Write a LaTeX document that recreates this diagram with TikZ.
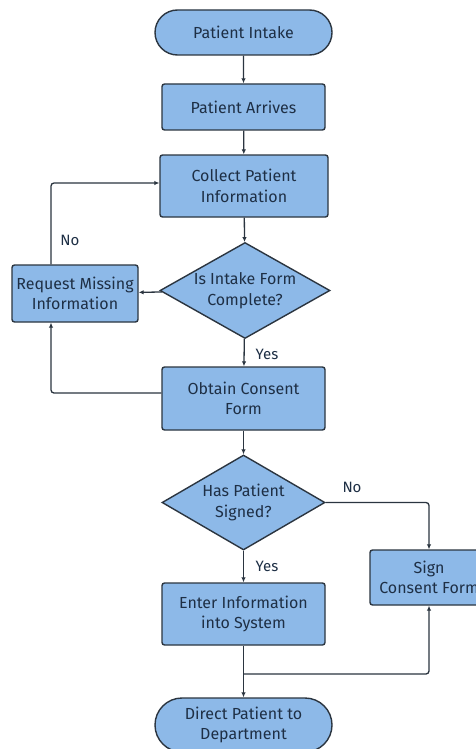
\documentclass[tikz,border=0pt]{standalone}
\usepackage{fontspec}
\setmainfont{Fira Sans}
\usetikzlibrary{shapes.geometric,shapes.misc,arrows.meta}
\definecolor{boxfill}{HTML}{8DB9E8}
\definecolor{boxline}{HTML}{2B3540}
\definecolor{txt}{HTML}{1E2F45}
\tikzset{
  textstyle/.style={text=txt, font=\fontsize{16}{20.5}\selectfont, align=center},
  base/.style={draw=boxline, fill=boxfill, line width=1.4pt, textstyle, inner sep=0pt},
  proc/.style={base, rectangle, rounded corners=2.5pt, minimum width=163pt, minimum height=#1},
  term/.style={base, rounded rectangle, minimum width=177pt, minimum height=#1},
  deci/.style={base, diamond, minimum width=#1, minimum height=96pt},
  conn/.style={draw=boxline, line width=1.3pt, -{Latex[length=5pt,width=4.5pt]}, rounded corners=3pt},
  lbl/.style={text=txt, font=\fontsize{15}{18}\selectfont}
}
\begin{document}
\begin{tikzpicture}[x=1pt,y=-1pt]
\useasboundingbox (0,0) rectangle (476,749);
\fill[white] (0,0) rectangle (476,749);
\node[term=45pt] (intake) at (243.5,32.5) {Patient Intake};
\node[proc=46pt] (arrives) at (243.5,107) {Patient Arrives};
\node[proc=62pt, minimum width=168pt] (collect) at (244,186) {Collect Patient\\Information};
\node[deci=170pt, label={[textstyle]center:Is Intake Form\\Complete?}] (complete) at (245,290.5) {};
\node[proc=57pt, minimum width=126pt] (request) at (75,293.5) {Request Missing\\Information};
\node[proc=63pt] (consent) at (243.5,398.5) {Obtain Consent\\Form};
\node[deci=163pt, minimum height=95pt, label={[textstyle]center:Has Patient\\Signed?}] (signed) at (243.5,502.5) {};
\node[proc=55pt, minimum width=118pt] (sign) at (429,577.5) {Sign\\Consent Form};
\node[proc=62pt] (enter) at (243.5,614) {Enter Information\\into System};
\node[term=54pt] (direct) at (243.5,725) {Direct Patient to\\Department};
\coordinate (nocorner) at (51,183);
\coordinate (backcorner) at (51,393);
\coordinate (junction) at (243.5,674);
\draw[conn] (intake) -- (arrives);
\draw[conn] (arrives) -- (collect);
\draw[conn] (collect) -- (complete);
\draw[conn] (complete) -- (request);
\draw[conn] (request.north -| nocorner) -- (nocorner) -- (nocorner -| collect.west);
\node[lbl] (nolbl1) at (70,240) {No};
\draw[conn] (complete) -- (consent);
\node[lbl] (yeslbl1) at (267,354) {Yes};
\draw[conn] (consent.west |- backcorner) -- (backcorner) -- (request.south -| backcorner);
\draw[conn] (consent) -- (signed);
\draw[conn] (signed.east) -- (signed.east -| sign) -- (sign.north);
\node[lbl] (nolbl2) at (352,487) {No};
\draw[conn] (signed) -- (enter);
\node[lbl] (yeslbl2) at (267,566) {Yes};
\draw[conn] (enter) -- (direct);
\draw[conn] (junction) -- (junction -| sign) -- (sign.south);
\end{tikzpicture}
\end{document}
